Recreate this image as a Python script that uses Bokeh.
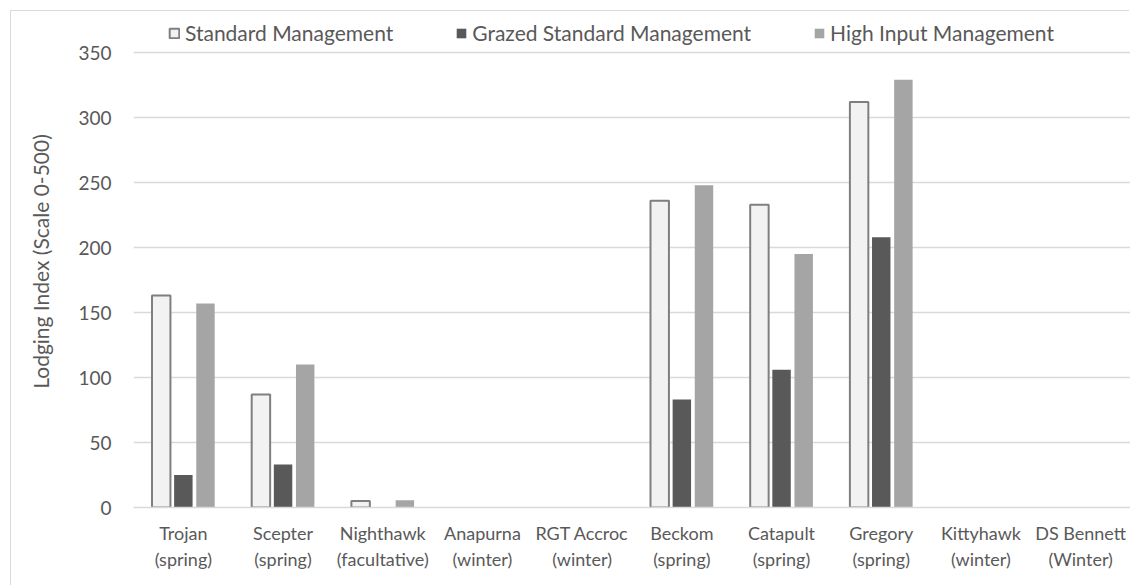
from bokeh.plotting import figure
from bokeh.models import (ColumnDataSource, Range1d, Legend, LegendItem,
                          FixedTicker, LinearAxis)
from bokeh.transform import dodge
from bokeh.embed import file_html
from bokeh.resources import INLINE

varieties = ["Trojan", "Scepter", "Nighthawk", "Anapurna", "RGT Accroc",
             "Beckom", "Catapult", "Gregory", "Kittyhawk", "DS Bennett"]
seasons = ["(spring)", "(spring)", "(facultative)", "(winter)", "(winter)",
           "(spring)", "(spring)", "(spring)", "(winter)", "(Winter)"]
standard = [163, 87, 5, 0, 0, 236, 233, 312, 0, 0]
grazed = [25, 33, 0, 0, 0, 83, 106, 208, 0, 0]
high_input = [157, 110, 5.5, 0, 0, 248, 195, 329, 0, 0]
y_ticks = [0, 50, 100, 150, 200, 250, 300, 350]
series_names = ["Standard Management", "Grazed Standard Management", "High Input Management"]

idx = list(range(len(varieties)))
src = ColumnDataSource(dict(
    idx=idx,
    standard=standard,
    grazed=grazed,
    high=high_input,
    std_line=[1.0 if v > 0 else 0.0 for v in standard],
))

TEXT = "#595959"
FONT = "Lato"

p = figure(x_range=Range1d(-0.5, len(varieties) - 0.5), y_range=Range1d(0, 378.5),
           width=1119, height=575, output_backend="svg", toolbar_location=None,
           min_border_left=122, min_border_right=0, min_border_top=4, min_border_bottom=79)
p.margin = (11, 0, 0, 11)
p.styles = {"box-shadow": "-1px -1px 0 0 #d9d9d9"}
p.outline_line_color = None

w = 0.185
r1 = p.vbar(x=dodge("idx", -0.222), top="standard", width=w, source=src,
            fill_color="#f2f2f2", line_color="#7f7f7f", line_width=2, line_alpha="std_line")
r2 = p.vbar(x=dodge("idx", 0.0), top="grazed", width=w, source=src,
            fill_color="#595959", line_color=None)
r3 = p.vbar(x=dodge("idx", 0.222), top="high", width=w, source=src,
            fill_color="#a5a5a5", line_color=None)

legend = Legend(items=[LegendItem(label=series_names[0], renderers=[r1], index=0),
                       LegendItem(label=series_names[1], renderers=[r2]),
                       LegendItem(label=series_names[2], renderers=[r3])],
                orientation="horizontal", location=(35, 462),
                glyph_width=12, glyph_height=12, label_standoff=5, spacing=62,
                padding=0, margin=0, border_line_color=None, background_fill_alpha=0,
                label_text_font=FONT, label_text_font_size="21px", label_text_color=TEXT,
                label_height=20)
p.add_layout(legend)

p.xgrid.grid_line_color = None
p.ygrid.grid_line_color = "#d9d9d9"
p.ygrid.grid_line_width = 1.3
p.yaxis.ticker = FixedTicker(ticks=y_ticks)

p.yaxis.axis_line_color = None
p.yaxis.major_tick_line_color = None
p.yaxis.minor_tick_line_color = None
p.yaxis.major_label_standoff = 16
p.yaxis.major_label_text_font = FONT
p.yaxis.major_label_text_font_size = "19px"
p.yaxis.major_label_text_color = TEXT
p.yaxis.axis_label = "Lodging Index (Scale 0-500)"
p.yaxis.axis_label_text_font = FONT
p.yaxis.axis_label_text_font_size = "21px"
p.yaxis.axis_label_text_font_style = "normal"
p.yaxis.axis_label_text_color = TEXT
p.yaxis.axis_label_standoff = 22

xa = p.xaxis[0]
xa.ticker = FixedTicker(ticks=idx)
xa.major_label_overrides = dict(zip(idx, varieties))
xa.axis_line_color = "#d9d9d9"
xa.axis_line_width = 1.3
xa.major_tick_line_color = None
xa.minor_tick_line_color = None
xa.major_label_standoff = 8
xa.major_label_text_font = FONT
xa.major_label_text_font_size = "18px"
xa.major_label_text_color = TEXT

xb = LinearAxis(ticker=FixedTicker(ticks=idx), major_label_overrides=dict(zip(idx, seasons)))
xb.axis_line_color = None
xb.major_tick_line_color = None
xb.minor_tick_line_color = None
xb.major_label_standoff = -5
xb.major_label_text_font = FONT
xb.major_label_text_font_size = "18px"
xb.major_label_text_color = TEXT
p.add_layout(xb, "below")

open("out.html", "w").write(file_html(p, INLINE))
